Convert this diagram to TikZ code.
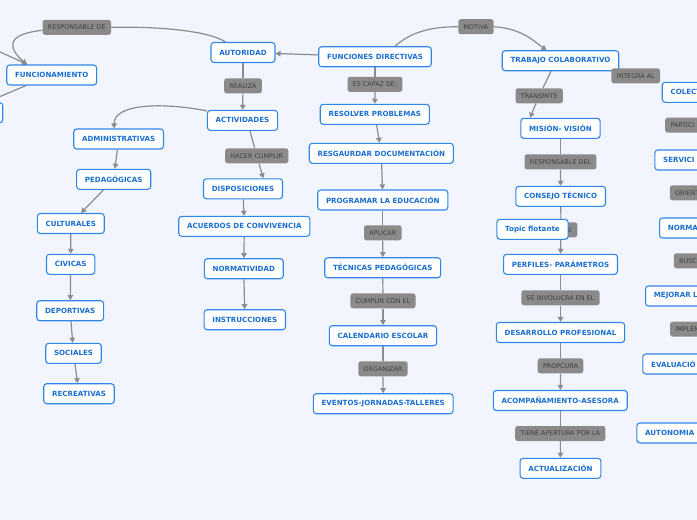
\documentclass[tikz,border=0pt]{standalone}
\usepackage{fontspec}
\setmainfont{DejaVu Sans}
\usetikzlibrary{arrows.meta,calc}
\definecolor{bg}{HTML}{F2F5FE}
\definecolor{nodeblue}{HTML}{2F86EA}
\definecolor{txtblue}{HTML}{1A6FD1}
\definecolor{lblgray}{HTML}{8A8A8A}
\definecolor{lbltxt}{HTML}{3F3F3F}
\definecolor{linegray}{HTML}{8C8C8C}
\pgfdeclarelayer{background}
\pgfsetlayers{background,main}
\begin{document}
\begin{tikzpicture}[x=1pt,y=-1pt,
 box/.style={draw=nodeblue, line width=1.1pt, fill=white, rounded corners=3pt, minimum height=20pt, inner xsep=8.3pt, inner ysep=0pt, text=txtblue, font=\fontsize{7.1}{8}\selectfont\bfseries},
 lbl/.style={fill=lblgray, rounded corners=2.5pt, minimum height=15pt, inner xsep=5.3pt, inner ysep=0pt, text=lbltxt, font=\fontsize{6.4}{7.5}\selectfont},
 conn/.style={draw=linegray, line width=1.2pt},
 arr/.style={conn, -{Triangle[length=5pt,width=5.5pt]}},
 cutbox/.style={box, anchor=west, text width=#1, align=left},
 cutlbl/.style={lbl, anchor=west, text width=#1, align=left}]
\useasboundingbox (0,0) rectangle (697,520);
\clip (0,0) rectangle (697,520);

% left / middle-left
\node[box] (fd) at (375,56.7) {FUNCIONES DIRECTIVAS};
\node[box] (aut) at (243,52.5) {AUTORIDAD};
\node[box] (func) at (51.7,75) {FUNCIONAMIENTO};
\node[box, anchor=east, minimum width=60pt] (leftn) at (3.3,112.7) {};
\node[lbl] (resp) at (76.8,27.3) {RESPONSABLE DE};
\node[lbl] (realiza) at (243,85.8) {REALIZA};
\node[box] (act) at (242.5,120.4) {ACTIVIDADES};
\node[box] (admin) at (118.6,139) {ADMINISTRATIVAS};
\node[box] (pedag) at (113.7,179.3) {PEDAGÓGICAS};
\node[box] (cult) at (70.8,223.5) {CULTURALES};
\node[box] (civ) at (70.7,264.3) {CIVICAS};
\node[box] (dep) at (70.2,310.7) {DEPORTIVAS};
\node[box] (soc) at (73.5,353.3) {SOCIALES};
\node[box] (rec) at (79,393.7) {RECREATIVAS};
\node[lbl] (hacer) at (256.7,155.8) {HACER CUMPLIR};
\node[box] (disp) at (243,188.8) {DISPOSICIONES};
\node[box] (acu) at (244.3,226.3) {ACUERDOS DE CONVIVENCIA};
\node[box] (norm) at (243.8,268.7) {NORMATIVIDAD};
\node[box] (instr) at (244.8,319.7) {INSTRUCCIONES};

% center column
\node[lbl] (escapaz) at (375,84.3) {ES CAPAZ DE:};
\node[box] (rp) at (374.8,114.3) {RESOLVER PROBLEMAS};
\node[box] (rd) at (381.3,153.3) {RESGAURDAR DOCUMENTACIÓN};
\node[box] (pe) at (382.8,200) {PROGRAMAR LA EDUCACIÓN};
\node[lbl] (aplicar) at (382.8,232.8) {APLICAR};
\node[box] (tp) at (382.7,267.7) {TÉCNICAS PEDAGÓGICAS};
\node[lbl] (cumplir) at (383,300.8) {CUMPLIR CON EL};
\node[box] (cal) at (383,335.7) {CALENDARIO ESCOLAR};
\node[lbl] (organizar) at (383,368.8) {ORGANIZAR};
\node[box] (ev) at (383.2,403.7) {EVENTOS-JORNADAS-TALLERES};

% right-center column
\node[lbl] (motiva) at (476,26.7) {MOTIVA};
\node[box] (trab) at (560.5,60.7) {TRABAJO COLABORATIVO};
\node[lbl] (transmite) at (539.2,95.8) {TRANSMITE};
\node[box] (mision) at (560.5,128.3) {MISIÓN- VISIÓN};
\node[lbl] (integra) at (635.7,75.8) {INTEGRA AL};
\node[lbl] (respdel) at (560.5,161.8) {RESPONSABLE DEL};
\node[box] (consejo) at (560.7,196.3) {CONSEJO TÉCNICO};
\node[lbl, text width=22pt, align=right] (hidden) at (561,229.8) {E};
\node[box] (topic) at (532.5,229.3) {Topic flotante};
\node[box] (perf) at (560.5,264.3) {PERFILES- PARÁMETROS};
\node[lbl] (involucra) at (560.5,297.8) {SE INVOLUCRA EN EL};
\node[box] (desa) at (560.5,332.5) {DESARROLLO PROFESIONAL};
\node[lbl] (propcura) at (560.5,365.8) {PROPCURA};
\node[box] (acomp) at (560.3,400.5) {ACOMPAÑAMIENTO-ASESORA};
\node[lbl] (tiene) at (560.3,433.5) {TIENE APERTURA POR LA};
\node[box] (actu) at (560.5,468.3) {ACTUALIZACIÓN};

% right column (cut by the edge)
\node[cutbox=60pt] (colect) at (661.7,92.3) {COLECT};
\node[cutlbl=40pt] (partici) at (665,125.2) {PARTICI};
\node[cutbox=60pt] (servici) at (654.3,160) {SERVICI};
\node[cutlbl=40pt] (orient) at (669.7,192.8) {ORIENT};
\node[cutbox=60pt] (norma) at (659,228) {NORMA};
\node[cutlbl=40pt] (busc) at (673.7,260.8) {BUSC};
\node[cutbox=70pt] (mejorar) at (645,296) {MEJORAR L};
\node[cutlbl=40pt] (implem) at (670,329.2) {IMPLEM};
\node[cutbox=70pt] (evalua) at (642.3,364) {EVALUACIÓ};
\node[cutbox=70pt] (auton) at (636.3,433) {AUTONOMIA};

\coordinate (offA) at (-20,43);
\coordinate (offB) at (-20,105);

\begin{pgfonlayer}{background}
\fill[bg] (0,0) rectangle (697,520);
% autoridad -> responsable de -> funcionamiento
\draw[conn] ($(aut.north)+(-17.5,0)$) .. controls +(-15,-10) and +(55,-1) .. (resp.east);
\draw[arr] ($(resp.west)+(0,3)$) .. controls +(-38,4) and +(-18,-16) .. ($(func.north)+(-25,0)$);
\draw[arr] (offA) -- ($(func.north)+(-24,0)$);
\draw[conn] ($(func.south)+(-25.7,0)$) -- (offB);
% fd -> autoridad
\draw[arr] (fd) -- (aut);
\draw[conn] (aut) -- (realiza);
\draw[arr] (realiza) -- (act);
\draw[arr] ($(act.west)+(0,-9.5)$) .. controls +(-40,-8) and +(0,-26) .. ($(admin.north)+(-4.5,0)$);
\draw[arr] (admin) -- (pedag);
\draw[arr] (pedag) -- (cult);
\draw[arr] (cult) -- (civ);
\draw[arr] (civ) -- (dep);
\draw[arr] (dep) -- (soc);
\draw[arr] (soc) -- (rec);
\draw[conn] ($(act.south)+(7.5,0)$) -- (hacer);
\draw[arr] (hacer) -- ($(disp.north)+(20.3,0)$);
\draw[arr] (disp) -- (acu);
\draw[arr] (acu) -- (norm);
\draw[arr] (norm) -- (instr);
% center
\draw[conn] (fd) -- (escapaz);
\draw[arr] (escapaz) -- (rp);
\draw[arr] (rp) -- (rd);
\draw[arr] (rd) -- (pe);
\draw[conn] (pe) -- (aplicar);
\draw[arr] (aplicar) -- (tp);
\draw[conn] (tp) -- (cumplir);
\draw[arr] (cumplir) -- (cal);
\draw[conn] (cal) -- (organizar);
\draw[arr] (organizar) -- (ev);
% motiva
\draw[conn] ($(fd.north)+(20,0)$) .. controls +(15,-13) and +(-30,0) .. (motiva.west);
\draw[arr] (motiva.east) .. controls +(28,2) and +(-14,-10) .. ($(trab.north)+(-14,0)$);
\draw[conn] ($(trab.south)+(-9.5,0)$) -- (transmite);
\draw[arr] (transmite) -- ($(mision.north)+(-30.5,0)$);
\draw[conn] (mision) -- (respdel);
\draw[arr] (respdel) -- (consejo);
\draw[conn] (consejo) -- (hidden);
\draw[arr] (hidden) -- (perf);
\draw[conn] (perf) -- (involucra);
\draw[arr] (involucra) -- (desa);
\draw[conn] (desa) -- (propcura);
\draw[arr] (propcura) -- (acomp);
\draw[conn] (acomp) -- (tiene);
\draw[arr] (tiene) -- (actu);
\end{pgfonlayer}
\end{tikzpicture}
\end{document}
